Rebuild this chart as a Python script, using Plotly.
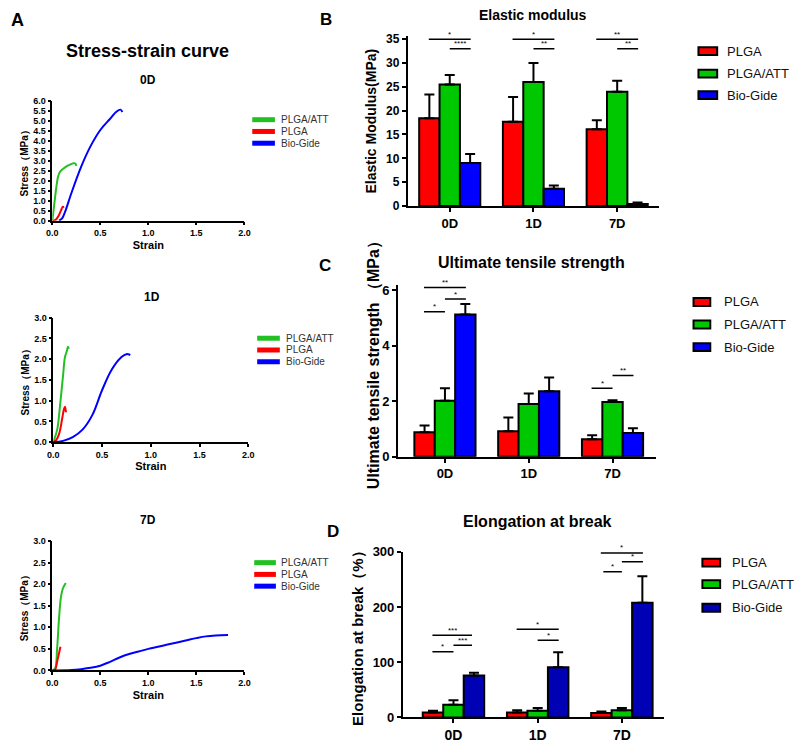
import plotly.graph_objects as go

W, H = 800, 749
FONT = "Liberation Sans"

groups = ["PLGA", "PLGA/ATT", "Bio-Gide"]
days = ["0D", "1D", "7D"]
bar_colors = ["#FF0000", "#00C800", "#0000FF"]
bar_colors_d = ["#FF0000", "#00C800", "#0000B4"]
curve_colors = {"PLGA/ATT": "#22C022", "PLGA": "#FF0000", "Bio-Gide": "#0000FF"}

# ---- A: stress-strain curves (strain, stress MPa) ----
ss0_att_x = [0, 0.02, 0.04, 0.06, 0.08, 0.10, 0.14, 0.18, 0.22, 0.24, 0.25]
ss0_att_y = [0, 0.8, 1.6, 2.2, 2.45, 2.55, 2.7, 2.8, 2.88, 2.87, 2.75]
ss0_plga_x = [0, 0.03, 0.06, 0.09, 0.11, 0.12]
ss0_plga_y = [0, 0.02, 0.2, 0.5, 0.7, 0.65]
ss0_bio_x = [0.07, 0.10, 0.13, 0.2, 0.3, 0.4, 0.5, 0.6, 0.67, 0.71, 0.73]
ss0_bio_y = [0, 0.1, 0.4, 1.4, 2.7, 3.75, 4.55, 5.1, 5.48, 5.57, 5.45]

ss1_att_x = [0, 0.04, 0.07, 0.10, 0.12, 0.14, 0.15, 0.16]
ss1_att_y = [0, 0.3, 0.9, 1.6, 2.05, 2.2, 2.3, 2.25]
ss1_plga_x = [0, 0.03, 0.06, 0.09, 0.11, 0.12, 0.13]
ss1_plga_y = [0, 0.05, 0.2, 0.55, 0.8, 0.85, 0.72]
ss1_bio_x = [0, 0.1, 0.2, 0.3, 0.4, 0.5, 0.6, 0.7, 0.75, 0.79]
ss1_bio_y = [0, 0.03, 0.12, 0.3, 0.65, 1.25, 1.75, 2.05, 2.12, 2.1]

ss7_att_x = [0, 0.03, 0.05, 0.07, 0.09, 0.11, 0.14]
ss7_att_y = [0, 0.05, 0.5, 1.2, 1.7, 1.9, 2.03]
ss7_plga_x = [0, 0.03, 0.05, 0.07, 0.085]
ss7_plga_y = [0, 0.02, 0.2, 0.4, 0.55]
ss7_bio_x = [0, 0.2, 0.3, 0.4, 0.5, 0.6, 0.7, 0.8, 0.9, 1.0, 1.1, 1.2, 1.3, 1.4, 1.5, 1.6, 1.7, 1.83]
ss7_bio_y = [0, 0.01, 0.03, 0.06, 0.11, 0.2, 0.3, 0.38, 0.44, 0.5, 0.55, 0.6, 0.65, 0.7, 0.75, 0.79, 0.81, 0.82]

# ---- B: elastic modulus (MPa), mean + upper SD ----
em_plga = [18.4, 17.7, 16.1]
em_att = [25.5, 26.0, 24.0]
em_bio = [9.0, 3.6, 0.4]
em_plga_sd = [5.0, 5.2, 1.9]
em_att_sd = [2.0, 4.0, 2.3]
em_bio_sd = [1.9, 0.7, 0.3]
em_sig = [(-0.25, 0.25, 35, "*"), (0.0, 0.25, 33, "****"),
          (0.75, 1.25, 35, "*"), (1.0, 1.25, 33, "**"),
          (1.75, 2.25, 35, "**"), (2.0, 2.25, 33, "**")]

# ---- C: ultimate tensile strength (MPa) ----
uts_plga = [0.88, 0.92, 0.63]
uts_att = [2.02, 1.9, 1.97]
uts_bio = [5.12, 2.36, 0.86]
uts_plga_sd = [0.25, 0.5, 0.15]
uts_att_sd = [0.45, 0.38, 0.07]
uts_bio_sd = [0.38, 0.5, 0.17]
uts_sig = [(-0.25, 0.25, 6.1, "**"), (0.0, 0.25, 5.68, "*"), (-0.25, 0.0, 5.22, "*"),
           (1.75, 2.0, 2.47, "*"), (2.0, 2.25, 2.93, "**")]

# ---- D: elongation at break (%) ----
el_plga = [9, 9, 8]
el_att = [23, 12, 13]
el_bio = [76, 91, 208]
el_plga_sd = [3, 4, 3]
el_att_sd = [8, 5, 4]
el_bio_sd = [5, 27, 48]
el_sig = [(-0.25, 0.22, 149, "***"), (0.0, 0.22, 131, "***"), (-0.25, 0.0, 119, "*"),
          (0.75, 1.25, 160, "*"), (1.0, 1.25, 140, "*"),
          (1.75, 2.25, 298, "*"), (2.0, 2.25, 282, "*"), (1.78, 2.0, 264, "*")]


def px_x(p):
    return p / W


def px_y(p):
    return 1 - p / H


fig = go.Figure()

# stress-strain curves
curves = [
    ("x1", "y1", [(ss0_att_x, ss0_att_y, "PLGA/ATT"), (ss0_plga_x, ss0_plga_y, "PLGA"), (ss0_bio_x, ss0_bio_y, "Bio-Gide")]),
    ("x2", "y2", [(ss1_att_x, ss1_att_y, "PLGA/ATT"), (ss1_plga_x, ss1_plga_y, "PLGA"), (ss1_bio_x, ss1_bio_y, "Bio-Gide")]),
    ("x3", "y3", [(ss7_att_x, ss7_att_y, "PLGA/ATT"), (ss7_plga_x, ss7_plga_y, "PLGA"), (ss7_bio_x, ss7_bio_y, "Bio-Gide")]),
]
for xa, ya, sets in curves:
    for xs, ys, name in sets:
        fig.add_trace(go.Scatter(x=xs, y=ys, mode="lines", name=name, showlegend=False,
                                 line=dict(color=curve_colors[name], width=2, shape="spline"),
                                 xaxis=xa, yaxis=ya))

# bar panels
bar_panels = [
    ("x4", "y4", [em_plga, em_att, em_bio], [em_plga_sd, em_att_sd, em_bio_sd], bar_colors, em_sig),
    ("x5", "y5", [uts_plga, uts_att, uts_bio], [uts_plga_sd, uts_att_sd, uts_bio_sd], bar_colors, uts_sig),
    ("x6", "y6", [el_plga, el_att, el_bio], [el_plga_sd, el_att_sd, el_bio_sd], bar_colors_d, el_sig),
]
shapes = []
annotations = []
for xa, ya, vals, sds, cols, sig in bar_panels:
    for g, v, sd, c in zip(groups, vals, sds, cols):
        fig.add_trace(go.Bar(
            x=days, y=v, name=g, showlegend=False,
            marker=dict(color=c, line=dict(color="black", width=2)),
            error_y=dict(type="data", array=sd, arrayminus=[0] * len(sd), symmetric=False,
                         color="black", thickness=2, width=5),
            xaxis=xa, yaxis=ya))
    for x0, x1, yv, lab in sig:
        shapes.append(dict(type="line", xref=xa, yref=ya, x0=x0, x1=x1, y0=yv, y1=yv,
                           line=dict(color="black", width=1.5)))
        annotations.append(dict(xref=xa, yref=ya, x=(x0 + x1) / 2, y=yv, yshift=5, text=lab,
                                showarrow=False, font=dict(size=8, color="black", family=FONT)))

# legends drawn by hand (line keys for A, box keys for B-D)
a_legends = [(250, 273, 277, [115, 127, 139]), (255, 278, 282, [338, 350, 362]), (252, 274, 277, [567, 579, 591])]
for lx0, lx1, tx, rows in a_legends:
    for name, ry in zip(["PLGA/ATT", "PLGA", "Bio-Gide"], rows):
        shapes.append(dict(type="line", xref="paper", yref="paper", x0=px_x(lx0), x1=px_x(lx1),
                           y0=px_y(ry), y1=px_y(ry), line=dict(color=curve_colors[name], width=5)))
        annotations.append(dict(xref="paper", yref="paper", x=px_x(tx), y=px_y(ry), xanchor="left",
                                yanchor="middle", text=name, showarrow=False,
                                font=dict(size=10, color="#333333", family=FONT)))

box_legends = [(703, 722, 730, [45, 68, 90], bar_colors),
               (698, 715, 727, [301, 324, 347], bar_colors),
               (707, 725, 735, [567, 589, 613], bar_colors_d)]
for bx0, bx1, tx, rows, cols in box_legends:
    for name, ry, c in zip(groups, rows, cols):
        shapes.append(dict(type="rect", xref="paper", yref="paper", x0=px_x(bx0), x1=px_x(bx1),
                           y0=px_y(ry + 4), y1=px_y(ry - 4), fillcolor=c,
                           line=dict(color="black", width=2)))
        annotations.append(dict(xref="paper", yref="paper", x=px_x(tx), y=px_y(ry), xanchor="left",
                                yanchor="middle", text=name, showarrow=False,
                                font=dict(size=13, color="#111111", family=FONT)))

# titles and panel letters
texts = [
    ("A", 12, 13, 18), ("B", 325, 13, 17), ("C", 324, 264, 17), ("D", 332, 535, 17),
    ("Stress-strain curve", 144, 45, 18),
    ("0D", 144, 75, 12), ("1D", 148, 296, 12), ("7D", 144, 523, 12),
    ("Elastic modulus", 535, 8, 14), ("Ultimate tensile strength", 533, 261, 16),
    ("Elongation at break", 540, 525, 16),
]
for t, x, y, s in texts:
    annotations.append(dict(xref="paper", yref="paper", x=px_x(x), y=px_y(y), text=t,
                            showarrow=False, xanchor="center", yanchor="middle",
                            font=dict(size=s, color="black", family=FONT, weight="bold")))

# C y title is taller than its plot, so it is placed as a rotated label
annotations.append(dict(xref="paper", yref="paper", x=px_x(373), y=px_y(361), text="Ultimate tensile strength （MPa）",
                        textangle=-90, showarrow=False, xanchor="center", yanchor="middle",
                        font=dict(size=16, color="black", family=FONT, weight="bold")))


def a_axes(dom_x, dom_y, ymax):
    xa = dict(domain=dom_x, range=[0, 2], tickvals=[0, 0.5, 1.0, 1.5, 2.0], tickformat=".1f",
              showline=True, linecolor="black", linewidth=1.5, ticks="outside", ticklen=3,
              tickwidth=1.5, tickcolor="black", showgrid=False, zeroline=False,
              tickfont=dict(size=9, color="black", family=FONT, weight="bold"),
              title=dict(text="Strain", standoff=4, font=dict(size=11, color="black", family=FONT, weight="bold")))
    ya = dict(domain=dom_y, range=[0, ymax], dtick=0.5, tickformat=".1f",
              showline=True, linecolor="black", linewidth=1.5, ticks="outside", ticklen=3,
              tickwidth=1.5, tickcolor="black", showgrid=False, zeroline=False,
              tickfont=dict(size=9, color="black", family=FONT, weight="bold"),
              title=dict(text="Stress（MPa）", standoff=3, font=dict(size=10, color="black", family=FONT, weight="bold")))
    return xa, ya


def bar_axes(dom_x, dom_y, xrange, yrange, dtick, ytitle, tsize, ticksize, catsize, standoff):
    xa = dict(domain=dom_x, range=xrange, showline=True, linecolor="black", linewidth=2,
              ticks="outside", ticklen=4, tickwidth=2, tickcolor="black", showgrid=False,
              zeroline=False, tickfont=dict(size=catsize, color="black", family=FONT, weight="bold"))
    ya = dict(domain=dom_y, range=yrange, dtick=dtick, tick0=0, showline=True, linecolor="black",
              linewidth=2, ticks="outside", ticklen=4, tickwidth=2, tickcolor="black",
              showgrid=False, zeroline=False,
              tickfont=dict(size=ticksize, color="black", family=FONT, weight="bold"),
              title=dict(text=ytitle, standoff=standoff, font=dict(size=tsize, color="black", family=FONT, weight="bold")))
    return xa, ya


x1, y1 = a_axes([px_x(47), px_x(242)], [px_y(218), px_y(96)], 6)
x2, y2 = a_axes([px_x(48), px_x(246)], [px_y(444), px_y(317)], 3)
x3, y3 = a_axes([px_x(47), px_x(242)], [px_y(677), px_y(545)], 3)
x4, y4 = bar_axes([px_x(408), px_x(663)], [px_y(203), px_y(30)], [-0.5, 2.5], [0, 35.6], 5,
                  "Elastic Modulus(MPa)", 14, 12, 13, 6)
x5, y5 = bar_axes([px_x(398), px_x(660)], [px_y(459), px_y(283.3)], [-0.56, 2.52], [0, 6.2], 2,
                  "", 16, 13, 13, 10)
x6, y6 = bar_axes([px_x(403), px_x(668)], [px_y(725), px_y(556)], [-0.6, 2.5], [0, 300], 100,
                  "Elongation at break（%）", 15, 13, 14, 5)

axes = {}
for i, (xa, ya) in enumerate([(x1, y1), (x2, y2), (x3, y3), (x4, y4), (x5, y5), (x6, y6)], start=1):
    xa["anchor"] = "y%d" % i
    ya["anchor"] = "x%d" % i
    axes["xaxis%d" % i] = xa
    axes["yaxis%d" % i] = ya

fig.update_layout(
    width=W, height=H, margin=dict(l=0, r=0, t=0, b=0),
    paper_bgcolor="white", plot_bgcolor="white",
    font=dict(family=FONT, color="black"),
    barmode="group", bargap=0.27, bargroupgap=0,
    showlegend=False,
    shapes=shapes, annotations=annotations,
    **axes,
)

# drop the browser's default body margin so the figure sits at the page corner
fig.write_html("out.html", config={"displayModeBar": False},
               post_script="document.body.style.margin='0';document.documentElement.style.overflow='hidden';")
